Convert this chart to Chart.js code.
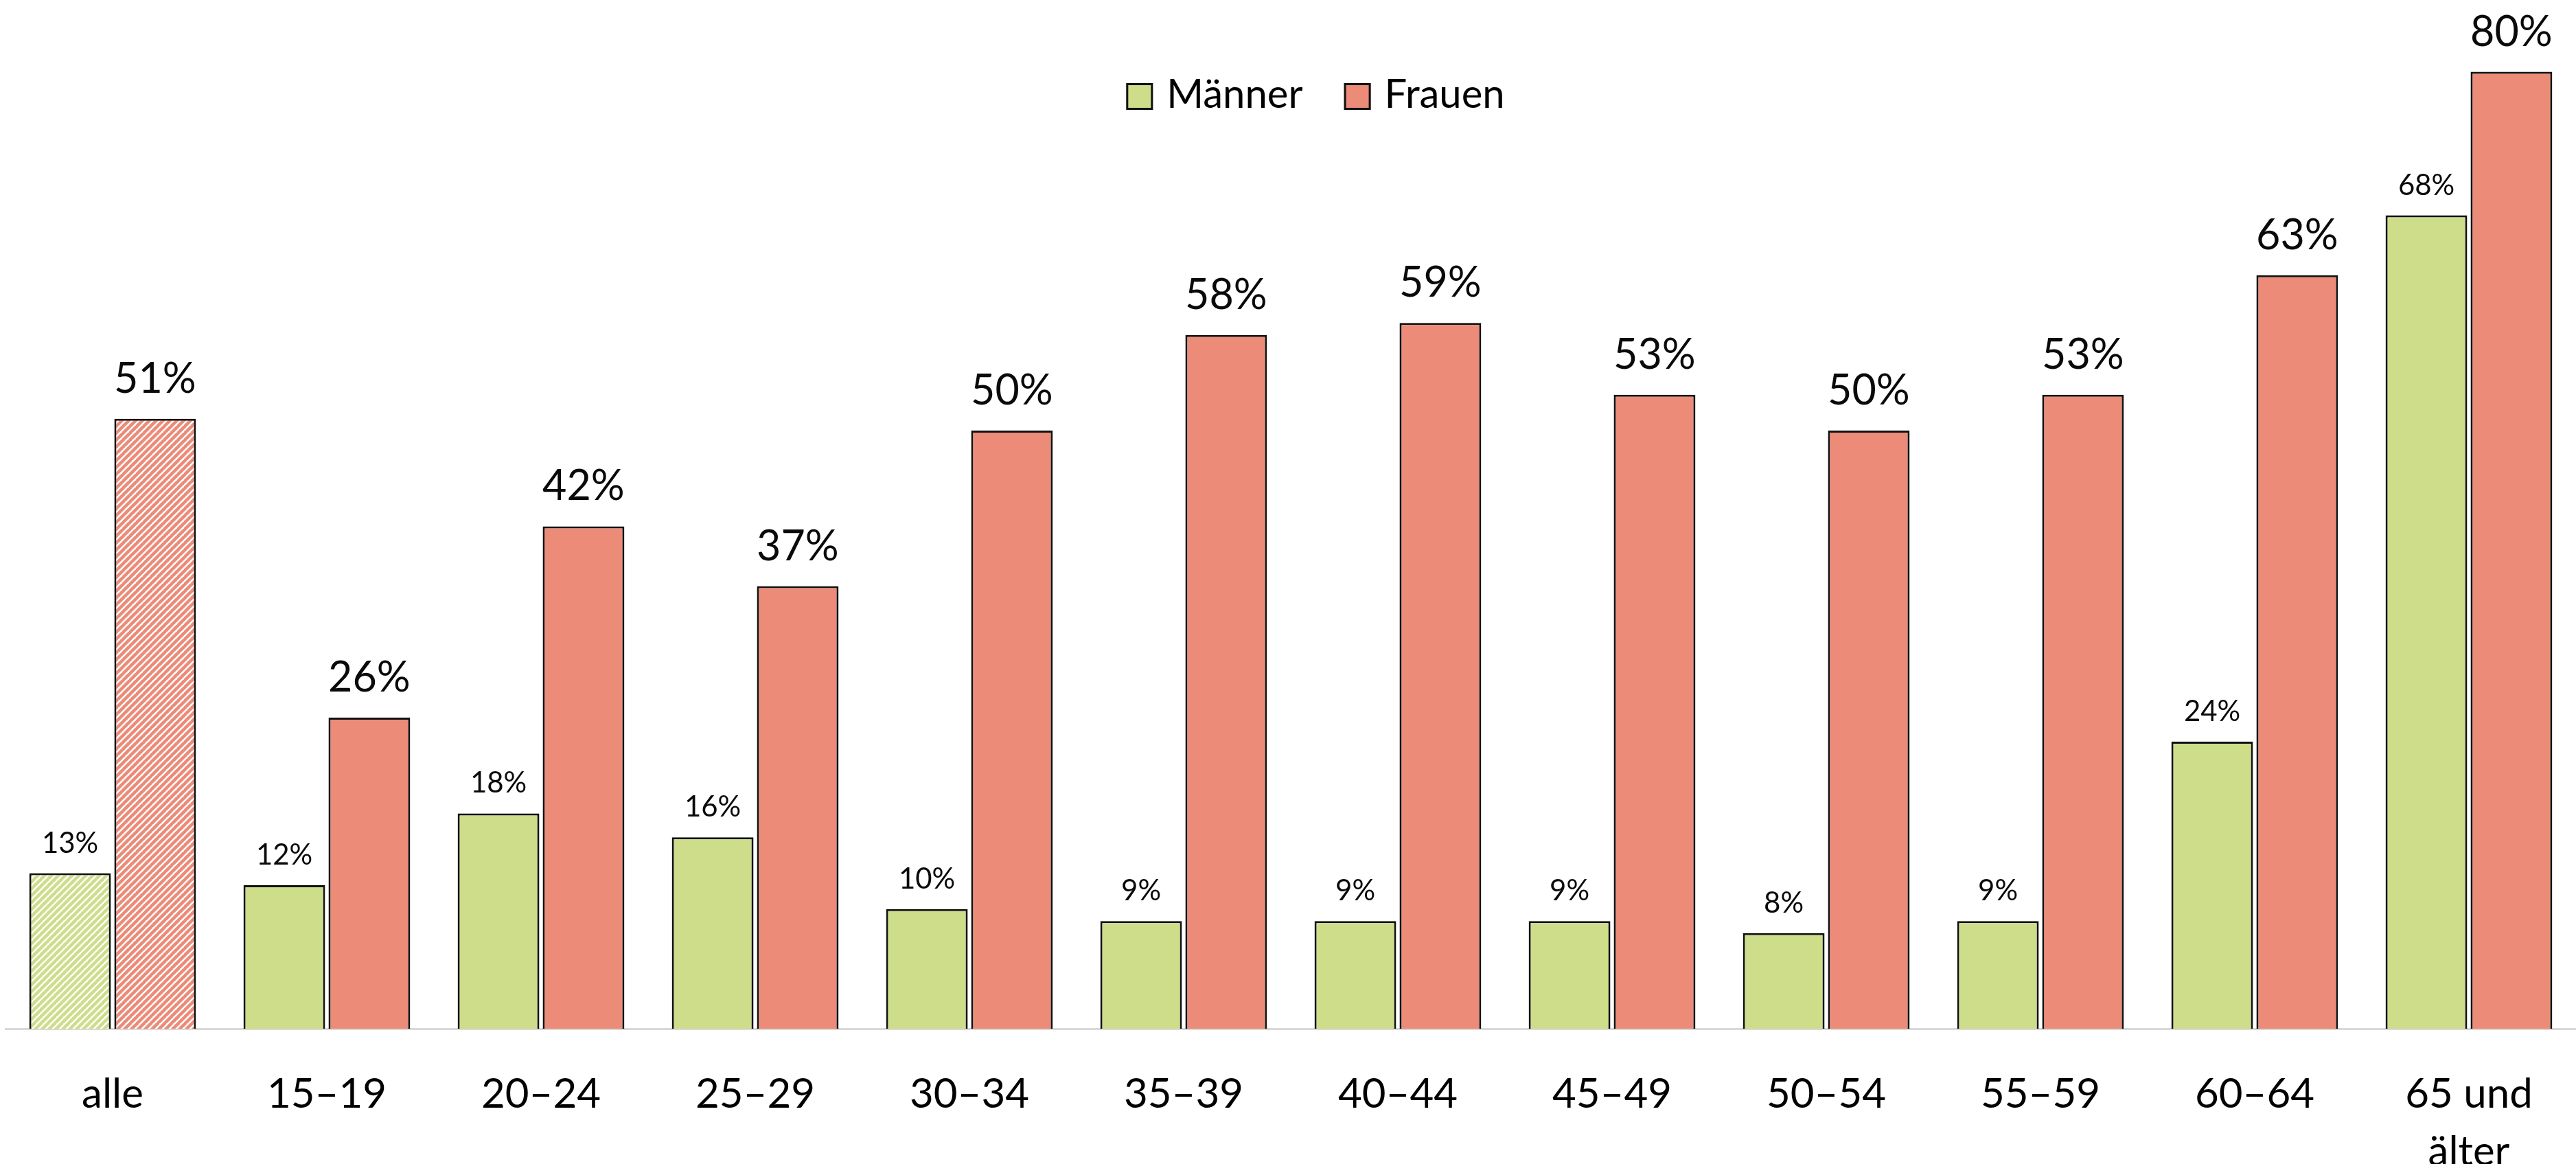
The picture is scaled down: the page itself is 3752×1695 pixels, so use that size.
<!DOCTYPE html>
<html>
<head>
<meta charset="utf-8">
<script src="https://cdn.jsdelivr.net/npm/chart.js@4.4.1/dist/chart.umd.min.js"></script>
<style>
  html, body { margin: 0; padding: 0; background: #ffffff; overflow: hidden; }
  #c { display: block; width: 3752px; height: 1695px; }
</style>
</head>
<body>
<canvas id="c" width="3752" height="1695"></canvas>
<script>
// Age groups on the x axis ("alle" = all ages together)
const categories = ['alle', '15–19', '20–24', '25–29', '30–34', '35–39', '40–44',
                    '45–49', '50–54', '55–59', '60–64', ['65 und', 'älter']];
const seriesNames = ['Männer', 'Frauen'];
const maleValues   = [13, 12, 18, 16, 10, 9, 9, 9, 8, 9, 24, 68];
const femaleValues = [51, 26, 42, 37, 50, 58, 59, 53, 50, 53, 63, 80];
const valueSuffix = '%';

const GREEN = '#CEDD8A';
const SALMON = '#EB8B78';
const EDGE = '#111111';
const FONT = 'Lato, "Open Sans", sans-serif';

// Diagonal stripe fill used for the "alle" summary bars
function stripes(color) {
  const size = 10;
  const c = document.createElement('canvas');
  c.width = size; c.height = size;
  const g = c.getContext('2d');
  g.fillStyle = '#ffffff';
  g.fillRect(0, 0, size, size);
  g.strokeStyle = color;
  g.lineWidth = 4.6;
  g.beginPath();
  for (let k = -1; k <= 1; k++) {
    g.moveTo(k * size - 1, size + 1);
    g.lineTo(k * size + size + 1, -1);
  }
  g.stroke();
  return g.createPattern(c, 'repeat');
}

function fills(color, n) {
  const hatch = stripes(color);
  return Array.from({ length: n }, (_, i) => (i === 0 ? hatch : color));
}

// Per-series style of the value labels above the bars
const labelStyle = [
  { size: 42, gap: 30 },
  { size: 61, gap: 38 }
];

const valueLabels = {
  id: 'valueLabels',
  afterDatasetsDraw(chart) {
    const ctx = chart.ctx;
    chart.data.datasets.forEach((ds, di) => {
      const meta = chart.getDatasetMeta(di);
      if (meta.hidden) return;
      const st = labelStyle[di];
      ctx.save();
      ctx.font = `${st.size}px ${FONT}`;
      ctx.fillStyle = '#0a0a0a';
      ctx.textAlign = 'center';
      ctx.textBaseline = 'alphabetic';
      meta.data.forEach((bar, i) => {
        ctx.fillText(ds.data[i] + valueSuffix, bar.x, bar.y - st.gap);
      });
      ctx.restore();
    });
  }
};

// Legend laid over the top of the plot area
const overlayLegend = {
  id: 'overlayLegend',
  afterDraw(chart) {
    const ctx = chart.ctx;
    const area = chart.chartArea;
    const box = 39, boxText = 20, between = 60, fontSize = 58;
    const boxTop = 121, baseline = 157;
    ctx.save();
    ctx.font = `${fontSize}px ${FONT}`;
    const items = chart.data.datasets.map(ds => ({
      text: ds.label, color: ds.legendColor, w: ctx.measureText(ds.label).width
    }));
    const total = items.reduce((s, it) => s + box + boxText + it.w, 0) + between * (items.length - 1);
    let x = (area.left + area.right) / 2 + 36 - total / 2;
    items.forEach(it => {
      ctx.fillStyle = it.color;
      ctx.fillRect(x, boxTop, box, box);
      ctx.strokeStyle = EDGE;
      ctx.lineWidth = 3;
      ctx.strokeRect(x + 1.5, boxTop + 1.5, box - 3, box - 3);
      ctx.fillStyle = '#000000';
      ctx.textAlign = 'left';
      ctx.textBaseline = 'alphabetic';
      ctx.fillText(it.text, x + box + boxText, baseline);
      x += box + boxText + it.w + between;
    });
    ctx.restore();
  }
};

const n = categories.length;

new Chart(document.getElementById('c'), {
  type: 'bar',
  data: {
    labels: categories,
    datasets: [
      {
        label: seriesNames[0],
        data: maleValues,
        backgroundColor: fills(GREEN, n),
        legendColor: GREEN,
        borderColor: EDGE,
        borderWidth: 3,
        borderSkipped: 'start',
        categoryPercentage: 0.794,
        barPercentage: 0.96
      },
      {
        label: seriesNames[1],
        data: femaleValues,
        backgroundColor: fills(SALMON, n),
        legendColor: SALMON,
        borderColor: EDGE,
        borderWidth: 3,
        borderSkipped: 'start',
        categoryPercentage: 0.794,
        barPercentage: 0.96
      }
    ]
  },
  options: {
    responsive: false,
    animation: false,
    devicePixelRatio: 1,
    layout: { padding: { left: 8, right: -6, top: 0, bottom: 0 } },
    plugins: {
      legend: { display: false },
      tooltip: { enabled: false }
    },
    scales: {
      x: {
        grid: { display: false },
        border: { display: true, color: '#d9d9d9', width: 3 },
        ticks: {
          color: '#000000',
          font: { family: FONT, size: 60, lineHeight: 1.4 },
          padding: 46,
          maxRotation: 0,
          autoSkip: false
        },
        afterFit(axis) { axis.height = 197; }
      },
      y: {
        display: false,
        min: 0,
        max: 86
      }
    }
  },
  plugins: [valueLabels, overlayLegend]
});
</script>
</body>
</html>
